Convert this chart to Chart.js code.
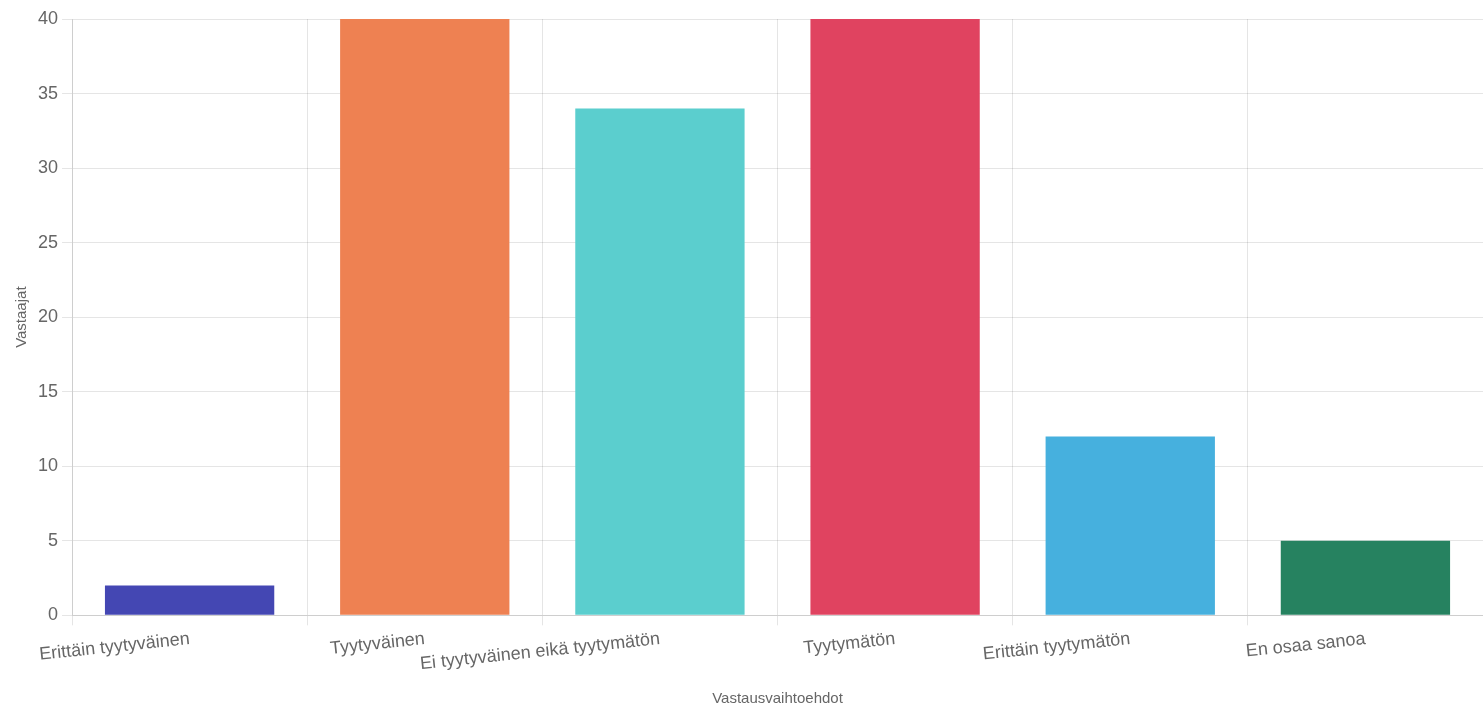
<!DOCTYPE html>
<html>
<head>
<meta charset="utf-8">
<script src="https://cdn.jsdelivr.net/npm/chart.js"></script>
<style>
  body { margin: 0; background: #fff; }
  #wrap { width: 1483px; height: 704px; position: relative; }
</style>
</head>
<body>
<div id="wrap"><canvas id="answers_chart"></canvas></div>
<script>
// Vastausvaihtoehdot ja vastaajamäärät
const categories = ['Erittäin tyytyväinen', 'Tyytyväinen', 'Ei tyytyväinen eikä tyytymätön', 'Tyytymätön', 'Erittäin tyytymätön', 'En osaa sanoa'];
const respondents = [2, 44, 34, 42, 12, 5];
const barColors = ['#4447B3', '#EE8152', '#5BCECE', '#E04360', '#46B0DE', '#268260'];

const ctx = document.getElementById('answers_chart').getContext('2d');
const chart = new Chart(ctx, {
    type: 'bar',
    data: {
        labels: categories,
        datasets: [{
            label: 'Vastaajat',
            data: respondents,
            backgroundColor: barColors
        }]
    },
    options: {
        responsive: true,
        maintainAspectRatio: false,
        animation: false,
        layout: { padding: { top: 19, left: 9 } },
        plugins: {
            legend: { display: false }
        },
        scales: {
            x: {
                title: {
                    display: true,
                    text: 'Vastausvaihtoehdot',
                    font: { size: 15 },
                    padding: { top: 12, bottom: -4 }
                },
                grid: { tickLength: 10 },
                ticks: { font: { size: 18 }, minRotation: 6, maxRotation: 6, autoSkip: false }
            },
            y: {
                min: 0,
                max: 40,
                title: {
                    display: true,
                    text: 'Vastaajat',
                    font: { size: 15 },
                    padding: { top: 4, bottom: 3 }
                },
                grid: { tickLength: 10 },
                ticks: { stepSize: 5, font: { size: 18 }, padding: 4 }
            }
        }
    }
});
</script>
</body>
</html>
